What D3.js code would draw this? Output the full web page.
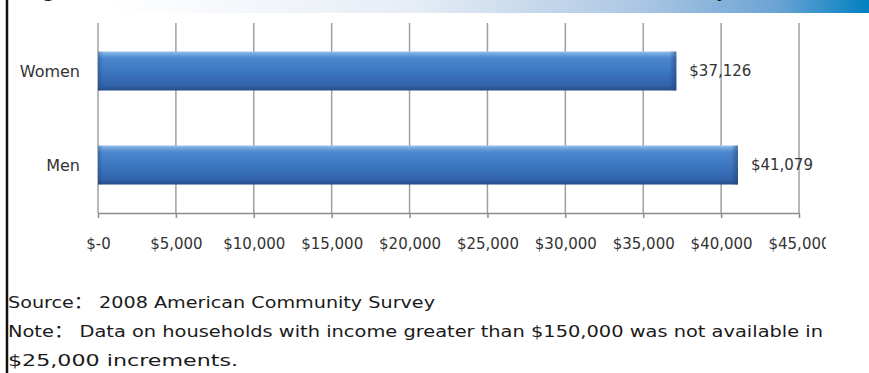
<!DOCTYPE html>
<html>
<head>
<meta charset="utf-8">
<script src="https://cdn.jsdelivr.net/npm/d3@7/dist/d3.min.js"></script>
<style>
  html, body { margin: 0; padding: 0; background: #fff; }
  svg { display: block; }
</style>
</head>
<body>
<svg id="chart" width="869" height="373"></svg>
<script>
// Median earnings by sex
const categories = ["Women", "Men"];
const earnings = [37126, 41079];
const tickValues = [0, 5000, 10000, 15000, 20000, 25000, 30000, 35000, 40000, 45000];
const tickLabels = ["$-0", "$5,000", "$10,000", "$15,000", "$20,000", "$25,000", "$30,000", "$35,000", "$40,000", "$45,000"];
const sourceText = "Source\uFF1A 2008 American Community Survey";
const noteLines = [
  "Note\uFF1A Data on households with income greater than $150,000 was not available in",
  "$25,000 increments."
];

const W = 869, H = 373;
const svg = d3.select("#chart");
const defs = svg.append("defs");

// header band: fades from white into blue
const band = defs.append("linearGradient").attr("id", "headBand")
  .attr("x1", "0%").attr("x2", "100%").attr("y1", "0%").attr("y2", "0%");
[["0%", "#ffffff"], ["40%", "#e6edf6"], ["70%", "#abc6e3"], ["88%", "#6aa3d4"], ["100%", "#0080c0"]]
  .forEach(([o, c]) => band.append("stop").attr("offset", o).attr("stop-color", c));

// bar fill: light top edge, darker bottom
const barGrad = defs.append("linearGradient").attr("id", "barFill")
  .attr("x1", "0%").attr("x2", "0%").attr("y1", "0%").attr("y2", "100%");
[["0%", "#98c2ec"], ["8%", "#6aa0dc"], ["18%", "#4a85cd"], ["55%", "#3b75bf"], ["88%", "#3161a8"], ["100%", "#234c88"]]
  .forEach(([o, c]) => barGrad.append("stop").attr("offset", o).attr("stop-color", c));

// bevelled bar ends
const endGrad = defs.append("linearGradient").attr("id", "barEnd")
  .attr("x1", "0%").attr("x2", "100%").attr("y1", "0%").attr("y2", "0%");
endGrad.append("stop").attr("offset", "0%").attr("stop-color", "#1d3f73").attr("stop-opacity", 0);
endGrad.append("stop").attr("offset", "100%").attr("stop-color", "#1d3f73").attr("stop-opacity", 0.55);
const startGrad = defs.append("linearGradient").attr("id", "barStart")
  .attr("x1", "0%").attr("x2", "100%").attr("y1", "0%").attr("y2", "0%");
startGrad.append("stop").attr("offset", "0%").attr("stop-color", "#1d3f73").attr("stop-opacity", 0.35);
startGrad.append("stop").attr("offset", "100%").attr("stop-color", "#1d3f73").attr("stop-opacity", 0);

defs.append("clipPath").attr("id", "plotClip")
  .append("rect").attr("x", 0).attr("y", 0).attr("width", 826).attr("height", 270);

// header band and the cut-off title glyphs above it
svg.append("rect").attr("x", 110).attr("y", 0).attr("width", W - 110).attr("height", 13)
  .attr("fill", "url(#headBand)");
svg.append("text").attr("x", 42).attr("y", -3).text("g")
  .attr("font-family", "DejaVu Sans").attr("font-size", 22).attr("fill", "#111");
svg.append("text").attr("x", 716).attr("y", -3).text("y")
  .attr("font-family", "DejaVu Sans").attr("font-size", 22).attr("fill", "#111");

// frame line on the left
svg.append("line").attr("x1", 7).attr("x2", 7).attr("y1", 0).attr("y2", H)
  .attr("stroke", "#111").attr("stroke-width", 2.5);

const x = d3.scaleLinear().domain([0, 45000]).range([98, 799]);
const y = d3.scaleBand().domain(categories).range([23, 213])
  .paddingInner(0.585).paddingOuter(0.303);

const plot = svg.append("g").attr("clip-path", "url(#plotClip)");

// vertical gridlines
plot.append("g").selectAll("line").data(tickValues).join("line")
  .attr("x1", d => x(d)).attr("x2", d => x(d))
  .attr("y1", 23).attr("y2", 213)
  .attr("stroke", "#a0a0a0").attr("stroke-width", 1.5);

// value axis along the bottom
const axis = plot.append("g").attr("transform", "translate(0,213)")
  .call(d3.axisBottom(x).tickValues(tickValues)
    .tickFormat((d, i) => tickLabels[i]).tickSize(5).tickSizeOuter(0).tickPadding(20));
axis.select(".domain").attr("stroke", "#8c8c8c").attr("stroke-width", 1.5);
axis.selectAll(".tick line").attr("stroke", "#8c8c8c").attr("stroke-width", 1.5);
axis.selectAll(".tick text")
  .attr("font-family", "DejaVu Sans").attr("font-size", 15).attr("fill", "#333");

// bars
const bars = plot.append("g").selectAll("g").data(categories).join("g");
bars.append("rect")
  .attr("x", x(0)).attr("y", d => y(d))
  .attr("width", (d, i) => x(earnings[i]) - x(0)).attr("height", y.bandwidth())
  .attr("fill", "url(#barFill)");
bars.append("rect")
  .attr("x", (d, i) => x(earnings[i]) - 7).attr("y", d => y(d))
  .attr("width", 7).attr("height", y.bandwidth())
  .attr("fill", "url(#barEnd)");
bars.append("rect")
  .attr("x", x(0)).attr("y", d => y(d))
  .attr("width", 5).attr("height", y.bandwidth())
  .attr("fill", "url(#barStart)");

// value labels
plot.append("g").selectAll("text").data(categories).join("text")
  .attr("x", (d, i) => x(earnings[i]) + 13)
  .attr("y", d => y(d) + y.bandwidth() / 2)
  .attr("dy", "0.36em")
  .attr("font-family", "DejaVu Sans").attr("font-size", 15).attr("fill", "#333")
  .text((d, i) => "$" + d3.format(",")(earnings[i]));

// category labels
svg.append("g").selectAll("text").data(categories).join("text")
  .attr("x", 80).attr("y", d => y(d) + y.bandwidth() / 2)
  .attr("dy", "0.36em").attr("text-anchor", "end")
  .attr("font-family", "DejaVu Sans").attr("font-size", 16).attr("fill", "#333")
  .text(d => d);

// source and note (full-width colons come from the SC face)
const foot = svg.append("g")
  .attr("font-family", "'DejaVu Sans', 'Noto Sans CJK SC'").attr("font-size", 16.5).attr("fill", "#1a1a1a");
foot.append("text").attr("x", 8).attr("y", 308)
  .attr("textLength", 427).attr("lengthAdjust", "spacingAndGlyphs").text(sourceText);
foot.append("text").attr("x", 8).attr("y", 337)
  .attr("textLength", 815).attr("lengthAdjust", "spacingAndGlyphs").text(noteLines[0]);
foot.append("text").attr("x", 8).attr("y", 366)
  .attr("textLength", 230).attr("lengthAdjust", "spacingAndGlyphs").text(noteLines[1]);
</script>
</body>
</html>
